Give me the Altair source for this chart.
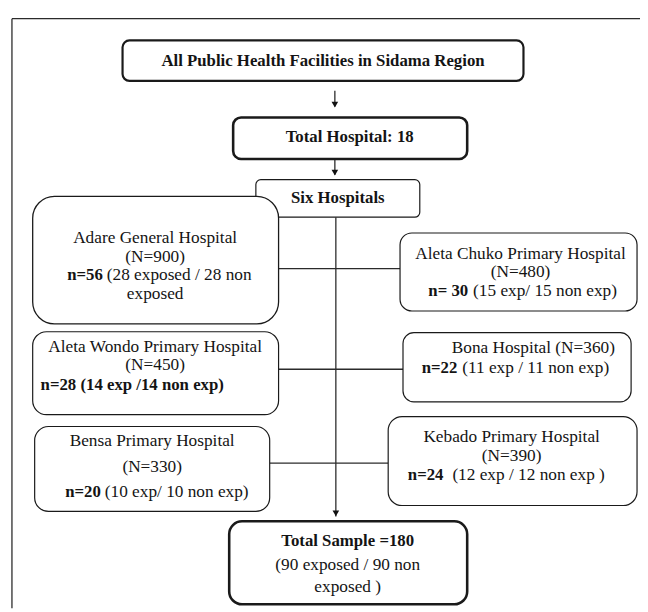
import altair as alt
import pandas as pd

# ---- content ----
box_names = ["All Public Health Facilities", "Total Hospital", "Six Hospitals", "Adare",
             "Aleta Chuko", "Aleta Wondo", "Bona", "Bensa", "Kebado", "Total Sample"]
# layout (page pixel coordinates)
box_x0 = [124, 236, 259, 33, 405, 33, 408, 35, 393, 232]
box_x1 = [530, 473, 425, 282, 645, 282, 639, 273, 645, 473]
box_y0 = [37, 115, 178, 195, 232, 332, 333, 428, 418, 524]
box_y1 = [78, 157, 216, 324, 311, 416, 403, 514, 508, 608]
box_radius = [7, 8, 5, 22, 12, 14, 11, 14, 14, 13]
box_stroke = [2.2, 2.6, 1.2, 1.3, 1.2, 1.2, 1.2, 1.2, 1.2, 2.6]

line_text = [
    "All Public Health Facilities in Sidama Region",
    "Total Hospital: 18",
    "Six Hospitals",
    "Adare General Hospital", "(N=900)", "n=56", "(28 exposed / 28 non", "exposed",
    "Aleta Chuko Primary Hospital", "(N=480)", "n= 30", "(15 exp/  15 non exp)",
    "Aleta Wondo Primary Hospital", "(N=450)", "n=28 (14 exp /14 non exp)",
    "Bona Hospital (N=360)", "n=22", "(11 exp / 11 non exp)",
    "Bensa Primary Hospital", "(N=330)", "n=20", "(10 exp/ 10 non exp)",
    "Kebado Primary Hospital", "(N=390)", "n=24", "(12 exp /  12  non exp )",
    "Total Sample =180", "(90 exposed / 90  non", "exposed )",
]
line_bold = [1, 1, 1,
             0, 0, 1, 0, 0,
             0, 0, 1, 0,
             0, 0, 1,
             0, 1, 0,
             0, 0, 1, 0,
             0, 0, 1, 0,
             1, 0, 0]
line_align = ["center", "center", "center",
              "center", "center", "right", "left", "center",
              "center", "center", "right", "left",
              "center", "center", "left",
              "center", "right", "left",
              "center", "center", "right", "left",
              "center", "center", "right", "left",
              "center", "center", "center"]
line_x = [327, 354, 342,
          157, 157, 104, 108, 157,
          527, 527, 474, 479,
          157, 157, 41,
          540, 463, 468,
          154, 154, 102, 106,
          518, 518, 449, 458,
          352, 352, 352]
line_y = [58, 135, 197,
          237, 256, 275, 275, 294,
          253, 272, 291, 291,
          348, 366, 386,
          349, 369, 369,
          443, 469, 494, 494,
          439, 458, 477, 477,
          544, 568, 591]

# connector lines
rule_x0 = [12, 12, 339, 339, 340, 282, 282, 273]
rule_x1 = [648, 12, 339, 339, 340, 405, 408, 393]
rule_y0 = [15, 15, 88, 158, 216, 268, 370, 465]
rule_y1 = [15, 612, 104, 173, 519, 268, 370, 465]
arrow_x = [339, 339, 340]
arrow_y = [105, 174, 519]

XS = alt.Scale(domain=[8, 648], nice=False, zero=False)
YS = alt.Scale(domain=[8, 612], nice=False, zero=False, reverse=True)
FONT = "Liberation Serif"

layers = []

rules = pd.DataFrame({"x0": rule_x0, "x1": rule_x1, "y0": rule_y0, "y1": rule_y1})
layers.append(
    alt.Chart(rules).mark_rule(color="#2b2b2b", strokeWidth=1.3).encode(
        x=alt.X("x0:Q", scale=XS, axis=None), x2="x1:Q",
        y=alt.Y("y0:Q", scale=YS, axis=None), y2="y1:Q")
)

for i, name in enumerate(box_names):
    d = pd.DataFrame({"box": [name], "x0": [box_x0[i]], "x1": [box_x1[i]],
                      "y0": [box_y0[i]], "y1": [box_y1[i]]})
    layers.append(
        alt.Chart(d).mark_rect(fill="white", stroke="#1a1a1a",
                               strokeWidth=box_stroke[i],
                               cornerRadius=box_radius[i]).encode(
            x=alt.X("x0:Q", scale=XS, axis=None), x2="x1:Q",
            y=alt.Y("y0:Q", scale=YS, axis=None), y2="y1:Q")
    )

arrows = pd.DataFrame({"x": arrow_x, "y": arrow_y})
layers.append(
    alt.Chart(arrows).mark_point(shape="triangle-down", filled=True, color="#111",
                                 size=45, opacity=1, yOffset=-3).encode(
        x=alt.X("x:Q", scale=XS, axis=None), y=alt.Y("y:Q", scale=YS, axis=None))
)

lines = pd.DataFrame({"label": line_text, "bold": line_bold, "anchor": line_align,
                      "x": line_x, "y": line_y})
for b in [0, 1]:
    for a in ["center", "left", "right"]:
        sub = lines[(lines["bold"] == b) & (lines["anchor"] == a)]
        if len(sub) == 0:
            continue
        layers.append(
            alt.Chart(sub).mark_text(font=FONT, fontSize=17 if b else 17.5, align=a,
                                     baseline="middle",
                                     fontWeight="bold" if b else "normal",
                                     color="#141414").encode(
                x=alt.X("x:Q", scale=XS, axis=None), y=alt.Y("y:Q", scale=YS, axis=None),
                text="label:N")
        )

chart = alt.layer(*layers).properties(width=640, height=604, padding=0,
                                      autosize=alt.AutoSizeParams(type="none"),
                                      background="white"
                                      ).configure_view(stroke=None)

chart.save("out.html", embed_options={"renderer": "svg", "actions": False})
